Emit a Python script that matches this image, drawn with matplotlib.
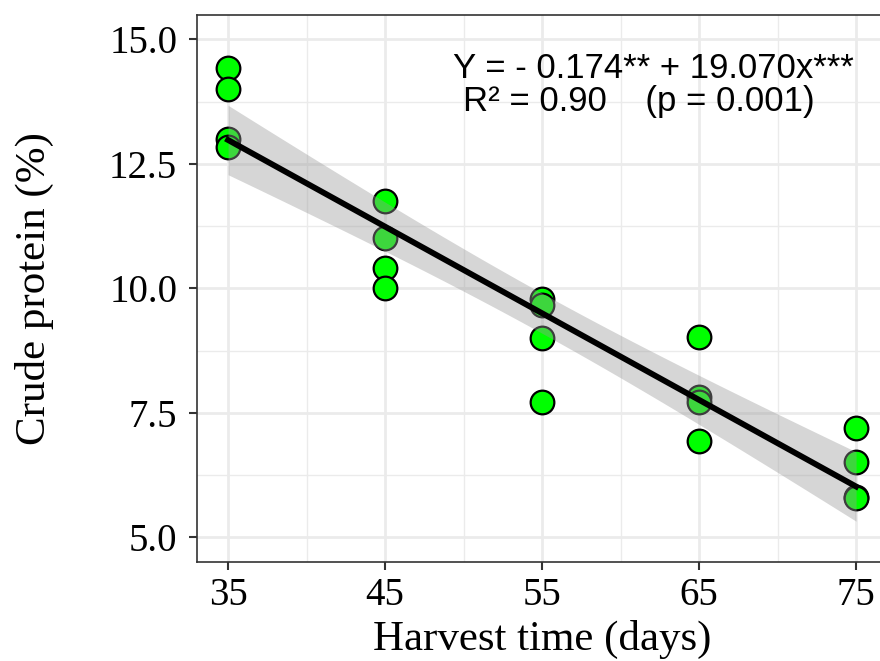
import matplotlib
matplotlib.use("Agg")
import matplotlib.pyplot as plt
from matplotlib.ticker import MultipleLocator
import numpy as np

# Crude protein measured at each harvest time (four replicates per date)
harvest_days = [35, 35, 35, 35, 45, 45, 45, 45, 55, 55, 55, 55,
                65, 65, 65, 65, 75, 75, 75, 75]
crude_protein = [14.42, 14.01, 13.00, 12.83,
                 11.76, 11.02, 10.41, 10.01,
                 9.79, 9.67, 9.00, 7.72,
                 9.02, 7.82, 7.72, 6.93,
                 7.19, 6.51, 5.80, 5.78]

# fitted model as reported on the plot
slope = -0.174
intercept = 19.070
r_squared = 0.90
p_value = 0.001

x = np.array(harvest_days, dtype=float)
y = np.array(crude_protein)

# 95% confidence band around the fitted line
xs = np.linspace(x.min(), x.max(), 100)
fit = intercept + slope * xs
n = len(x)
resid = y - (intercept + slope * x)
s = np.sqrt(np.sum(resid ** 2) / (n - 2))
t_crit = 2.101  # t(0.975, df=18)
half = t_crit * s * np.sqrt(1 / n + (xs - x.mean()) ** 2 / np.sum((x - x.mean()) ** 2))

fig = plt.figure(figsize=(8.8, 6.61), dpi=100)
ax = fig.add_axes([0.2235, 0.1495, 0.785, 0.8285])

ax.scatter(x, y, s=290, color="#00ff00", edgecolors="black", linewidths=1.6, zorder=2)
ax.fill_between(xs, fit - half, fit + half, color="#999999", alpha=0.4, linewidth=0, zorder=3)
ax.plot(xs, fit, color="black", linewidth=4.2, zorder=4)

ax.set_xlim(33, 77)
ax.set_ylim(4.5, 15.5)
ax.xaxis.set_major_locator(MultipleLocator(10))
ax.xaxis.set_minor_locator(MultipleLocator(5))
ax.yaxis.set_major_locator(MultipleLocator(2.5))
ax.yaxis.set_minor_locator(MultipleLocator(1.25))
ax.set_xticks([35, 45, 55, 65, 75])
ax.yaxis.set_major_formatter(matplotlib.ticker.FormatStrFormatter("%.1f"))

ax.grid(which="major", color="#ebebeb", linewidth=2.0, zorder=0)
ax.grid(which="minor", color="#ebebeb", linewidth=1.0, zorder=0)
ax.set_axisbelow(True)

for sp in ax.spines.values():
    sp.set_color("#333333")
    sp.set_linewidth(1.2)

ax.tick_params(which="major", length=6, width=1.5, color="#333333",
               labelsize=28, labelcolor="black")
ax.tick_params(axis="y", pad=8)
ax.tick_params(axis="x", pad=5)
ax.tick_params(which="minor", length=0)
for lab in ax.get_xticklabels() + ax.get_yticklabels():
    lab.set_family("Liberation Serif")

ax.set_xlabel("Harvest time (days)", family="Liberation Serif", fontsize=31, labelpad=4)
ax.set_ylabel("Crude protein (%)", family="Liberation Serif", fontsize=31, labelpad=40)

ax.text(49.3, 14.23, f"Y = - {abs(slope):.3f}** + {intercept:.3f}x***",
        family="Liberation Sans", fontsize=25, ha="left", va="baseline", zorder=5)
ax.text(49.95, 13.56, f"R\u00b2 = {r_squared:.2f}    (p = {p_value:.3f})",
        family="Liberation Sans", fontsize=25, ha="left", va="baseline", zorder=5)

fig.savefig("out.png", dpi=100)
